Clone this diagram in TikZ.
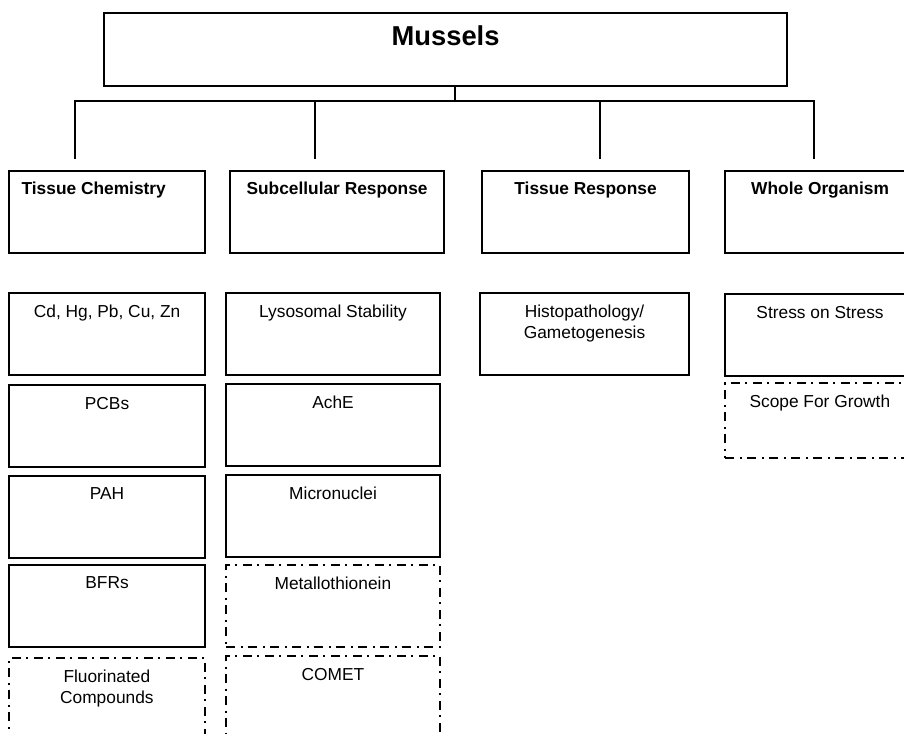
\documentclass[tikz,border=0pt]{standalone}
\usepackage{fontspec}
\setmainfont{Liberation Sans}
\usepackage{tikz}
\usetikzlibrary{calc}

\tikzset{
  box/.style 2 args={draw, line width=1.6pt, anchor=north west, inner sep=0pt,
    minimum width=#1*0.75pt, minimum height=#2*0.75pt},
  opt/.style={line width=1.3pt, dash pattern=on 7pt off 4pt on 1.5pt off 4pt},
  wire/.style={line width=1.3pt},
  hd/.style={anchor=north, yshift=-8.5pt, inner sep=0pt, font=\bfseries\fontsize{13}{16}\selectfont},
  tx/.style={anchor=north, yshift=-9.5pt, inner sep=0pt, align=center, font=\fontsize{13}{16}\selectfont}
}

\begin{document}
\begin{tikzpicture}[x=0.75pt,y=-0.75pt]
\useasboundingbox (0,0) rectangle (904,733);

\node[box={683}{73}, label={[hd, yshift=-1.3pt, font=\bfseries\fontsize{20.5}{24}\selectfont]north:Mussels}] (top) at (103,12) {};

% headers
\node[box={196}{82}, label={[hd, xshift=-10pt]north:Tissue Chemistry}] (chem) at (8,170) {};
\node[box={214}{82}, label={[hd]north:Subcellular Response}] (subc) at (229,170) {};
\node[box={207}{82}, label={[hd]north:Tissue Response}] (tiss) at (481,170) {};
\node[box={190}{82}, label={[hd]north:Whole Organism}] (whole) at (724,170) {};

% tissue chemistry
\node[box={196}{82}, label={[tx]north:{Cd, Hg, Pb, Cu, Zn}}] (metals) at (8,292) {};
\node[box={196}{82}, label={[tx]north:PCBs}] (pcb) at (8,384) {};
\node[box={196}{82}, label={[tx]north:PAH}] (pah) at (8,475) {};
\node[box={196}{82}, label={[tx]north:BFRs}] (bfr) at (8,564) {};
\node[box={196}{82}, opt, label={[tx]north:Fluorinated\\Compounds}] (fluor) at (8,657) {};

% subcellular response
\node[box={214}{82}, label={[tx]north:Lysosomal Stability}] (lyso) at (225,292) {};
\node[box={214}{82}, label={[tx]north:AchE}] (ache) at (225,383) {};
\node[box={214}{82}, label={[tx]north:Micronuclei}] (micro) at (225,474) {};
\node[box={214}{82}, opt, label={[tx]north:Metallothionein}] (metal) at (225,564) {};
\node[box={214}{82}, opt, label={[tx]north:COMET}] (comet) at (225,655) {};

% tissue response
\node[box={209}{82}, label={[tx]north:Histopathology/\\Gametogenesis}] (histo) at (479,292) {};

% whole organism
\node[box={190}{82}, label={[tx]north:Stress on Stress}] (sos) at (724,293) {};
\node[box={190}{75}, opt, label={[tx]north:Scope For Growth}] (sfg) at (724,382) {};

% tree
\coordinate (bus) at (455,101);
\coordinate (d1) at (75,159);
\coordinate (d2) at (315,159);
\coordinate (d3) at (600,159);
\coordinate (d4) at (814,159);
\draw[wire] (top.south -| bus) -- (bus);
\draw[wire] (d1) -- (d1 |- bus) -- (d4 |- bus) -- (d4);
\draw[wire] (d2) -- (d2 |- bus);
\draw[wire] (d3) -- (d3 |- bus);
\end{tikzpicture}
\end{document}
